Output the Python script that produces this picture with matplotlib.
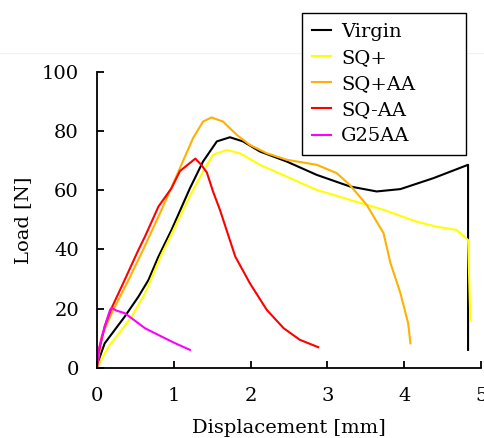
import matplotlib
matplotlib.use("Agg")
import matplotlib.pyplot as plt
from matplotlib.lines import Line2D

# Load-displacement curves, values
virgin_x = [0, 0.02, 0.10, 0.23, 0.36, 0.54, 0.67, 0.80, 0.97, 1.21, 1.38, 1.56, 1.73,
            1.90, 2.12, 2.47, 2.86, 3.29, 3.64, 3.95, 4.38, 4.83, 4.83]
virgin_y = [0, 2.5, 8.3, 12.8, 17.3, 24.1, 29.7, 37.6, 46.6, 60.7, 69.7, 76.5, 77.9,
            76.5, 73.1, 69.7, 65.2, 61.3, 59.6, 60.4, 64.1, 68.6, 6.1]

sqp_x = [0, 0.15, 0.32, 0.45, 0.625, 0.84, 0.97, 1.21, 1.38, 1.51, 1.69, 1.86, 2.12,
         2.47, 2.86, 3.29, 3.73, 4.16, 4.42, 4.68, 4.83, 4.86]
sqp_y = [0, 7.2, 12.8, 17.3, 25.2, 38.3, 45.2, 58.2, 66.3, 72, 73.6, 72.5, 68.6,
         64.6, 60.1, 56.8, 53.4, 49.4, 47.7, 46.6, 43.2, 16.2]

sqpaa_x = [0, 0.06, 0.19, 0.41, 0.60, 0.84, 1.08, 1.25, 1.38, 1.49, 1.64, 1.82, 1.99,
           2.21, 2.47, 2.86, 3.12, 3.29, 3.51, 3.73, 3.82, 3.95, 4.05, 4.08]
sqpaa_y = [0, 10.6, 18.5, 29.7, 39.9, 53.4, 67.5, 77.6, 83.2, 84.6, 83.2, 78.7, 75.3,
           72.5, 70.3, 68.6, 65.8, 61.8, 55.1, 45.5, 35.4, 25.2, 15.1, 8.3]

sqmaa_x = [0, 0.02, 0.10, 0.19, 0.36, 0.54, 0.625, 0.80, 0.97, 1.08, 1.28, 1.36, 1.43,
           1.51, 1.60, 1.80, 1.99, 2.21, 2.43, 2.64, 2.88]
sqmaa_y = [0, 5, 14, 20.2, 29.7, 39.9, 44.4, 54.5, 60.7, 66.5, 70.7, 68.5, 66,
           59.6, 53.4, 37.6, 28.6, 19.6, 13.4, 9.5, 7]

g25_x = [0, 0.02, 0.10, 0.17, 0.19, 0.26, 0.36, 0.45, 0.625, 0.84, 1.02, 1.21]
g25_y = [0, 6.1, 14, 19.6, 20.2, 19.3, 18.5, 16.8, 13.4, 10.6, 8.3, 6.1]

series = [
    ("Virgin", virgin_x, virgin_y, "black"),
    ("SQ+", sqp_x, sqp_y, "#ffff00"),
    ("SQ+AA", sqpaa_x, sqpaa_y, "#ffb000"),
    ("SQ-AA", sqmaa_x, sqmaa_y, "#ff0000"),
    ("G25AA", g25_x, g25_y, "#ff00ff"),
]

plt.rcParams['font.family'] = ['DejaVu Serif']
plt.rcParams['font.size'] = 14

fig = plt.figure(figsize=(4.85, 4.38), dpi=100)
# faint separator line near the top of the image
fig.add_artist(Line2D([0, 1], [1 - 53 / 438, 1 - 53 / 438], color="#f2f2f2", lw=0.8))

ax = fig.add_axes([0.2, 0.16, 0.792, 0.676])
for label, x, y, color in series:
    ax.plot(x, y, color=color, lw=1.5, label=label, solid_joinstyle='round')

ax.set_xlim(0, 5)
ax.set_ylim(0, 100)
ax.set_xticks(range(0, 6))
ax.set_yticks(range(0, 101, 20))
ax.spines['top'].set_visible(False)
ax.spines['right'].set_visible(False)
ax.spines['left'].set_linewidth(1.3)
ax.spines['bottom'].set_linewidth(1.3)
ax.tick_params(direction='in', length=5, width=1.3, labelsize=14)
ax.tick_params(axis='x', pad=14)
ax.tick_params(axis='y', pad=13)
ax.set_xlabel("Displacement [mm]", fontsize=14, labelpad=10)
ax.set_ylabel("Load [N]", fontsize=14, labelpad=7)

leg = fig.legend(loc='upper left',
                 bbox_to_anchor=(302 / 485, 1 - 152 / 438, 164 / 485, 139 / 438),
                 mode='expand', borderaxespad=0, handlelength=1.0, handletextpad=0.5,
                 labelspacing=0.42, borderpad=0.5, fancybox=False,
                 framealpha=1, edgecolor='black', fontsize=14)
leg.get_frame().set_linewidth(1.0)

fig.savefig("out.png", dpi=100)
